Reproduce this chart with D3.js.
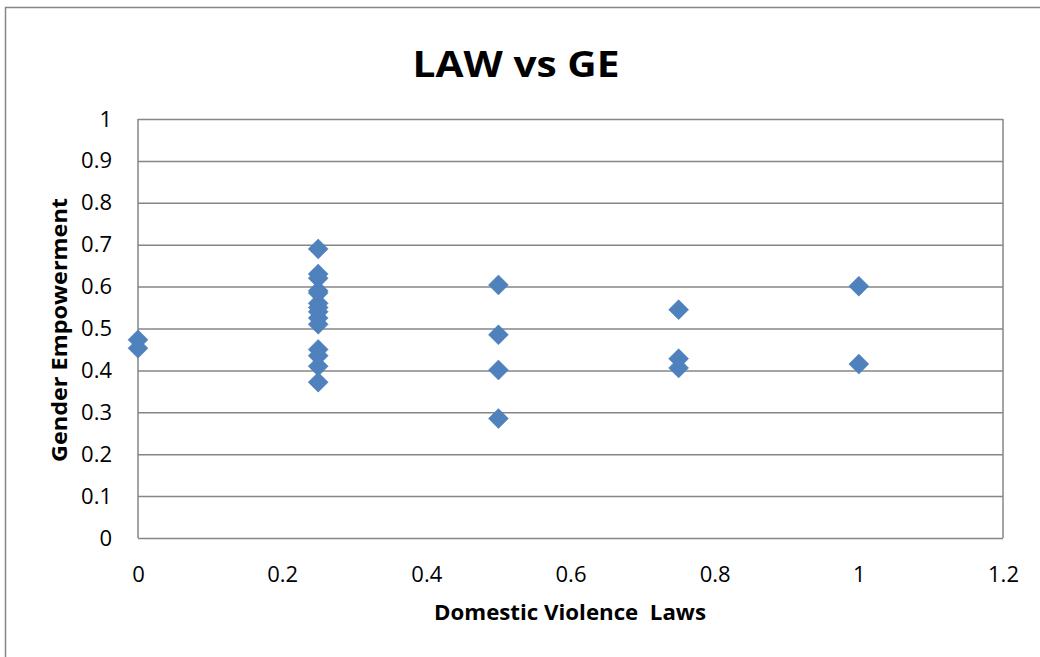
<!DOCTYPE html>
<html>
<head>
<meta charset="utf-8">
<script src="https://cdn.jsdelivr.net/npm/d3@7"></script>
<style>
  body { margin: 0; background: #fff; }
  svg text { font-family: "Open Sans", "Noto Sans", sans-serif; }
</style>
</head>
<body>
<div id="chart"></div>
<script>
// Domestic violence law score (x) vs gender empowerment (y)
const lawScores = [
  0, 0,
  0.25, 0.25, 0.25, 0.25, 0.25, 0.25, 0.25, 0.25, 0.25, 0.25, 0.25, 0.25, 0.25, 0.25,
  0.5, 0.5, 0.5, 0.5,
  0.75, 0.75, 0.75,
  1, 1
];
const empowerment = [
  0.473, 0.453,
  0.69, 0.63, 0.62, 0.59, 0.585, 0.56, 0.55, 0.54, 0.525, 0.51, 0.45, 0.435, 0.41, 0.372,
  0.604, 0.485, 0.401, 0.285,
  0.545, 0.428, 0.406,
  0.601, 0.415
];
const xTicks = [0, 0.2, 0.4, 0.6, 0.8, 1, 1.2];
const yTicks = [0, 0.1, 0.2, 0.3, 0.4, 0.5, 0.6, 0.7, 0.8, 0.9, 1];

const points = lawScores.map((x, i) => ({ x: x, y: empowerment[i] }));

const W = 1040, H = 657;
const margin = { top: 119, right: 37, bottom: 119, left: 138 };
const width = W - margin.left - margin.right;
const height = H - margin.top - margin.bottom;

const svg = d3.select("#chart")
  .append("svg")
  .attr("width", W)
  .attr("height", H);

// outer chart border
svg.append("rect")
  .attr("x", 5.5).attr("y", 7.5)
  .attr("width", W + 10).attr("height", H + 10)
  .attr("fill", "none")
  .attr("stroke", "#868686")
  .attr("stroke-width", 1.5);

const g = svg.append("g")
  .attr("transform", `translate(${margin.left},${margin.top})`);

const xScale = d3.scaleLinear().domain([0, 1.2]).range([0, width]);
const yScale = d3.scaleLinear().domain([0, 1]).range([height, 0]);

// horizontal gridlines
g.append("g")
  .call(d3.axisLeft(yScale).tickValues(yTicks).tickSize(-width).tickFormat(""))
  .call(a => a.select(".domain").remove())
  .selectAll("line")
  .attr("stroke", "#868686")
  .attr("stroke-width", 1.5);

// plot area border (left and right edges)
g.append("line")
  .attr("x1", 0).attr("x2", 0).attr("y1", 0).attr("y2", height)
  .attr("stroke", "#868686").attr("stroke-width", 1.5);
g.append("line")
  .attr("x1", width).attr("x2", width).attr("y1", 0).attr("y2", height)
  .attr("stroke", "#868686").attr("stroke-width", 1.5);

// y tick labels
g.append("g")
  .call(d3.axisLeft(yScale).tickValues(yTicks).tickSize(0).tickPadding(26).tickFormat(d3.format("")))
  .call(a => a.select(".domain").remove())
  .selectAll("text")
  .attr("font-size", 22)
  .attr("fill", "#000");

// x tick labels
g.append("g")
  .attr("transform", `translate(0,${height})`)
  .call(d3.axisBottom(xScale).tickValues(xTicks).tickSize(0).tickPadding(28).tickFormat(d3.format("")))
  .call(a => a.select(".domain").remove())
  .selectAll("text")
  .attr("font-size", 22)
  .attr("fill", "#000");

// points
g.selectAll("path.pt")
  .data(points)
  .enter()
  .append("path")
  .attr("class", "pt")
  .attr("transform", d => `translate(${xScale(d.x)},${yScale(d.y)})`)
  .attr("d", "M0,-10L10,0L0,10L-10,0Z")
  .attr("fill", "#4F81BD")
  .attr("stroke", "#4A7EBB")
  .attr("stroke-width", 0.5);

// title
svg.append("text")
  .attr("x", 516).attr("y", 77)
  .attr("text-anchor", "middle")
  .attr("font-size", 35)
  .attr("font-weight", "bold")
  .attr("textLength", 207)
  .attr("lengthAdjust", "spacingAndGlyphs")
  .text("LAW vs GE");

// axis titles
svg.append("text")
  .attr("x", 570).attr("y", 620)
  .attr("text-anchor", "middle")
  .attr("font-size", 21)
  .attr("font-weight", "bold")
  .attr("textLength", 272)
  .attr("lengthAdjust", "spacingAndGlyphs")
  .style("white-space", "pre")
  .text("Domestic Violence  Laws");

svg.append("text")
  .attr("transform", "translate(67,330) rotate(-90)")
  .attr("text-anchor", "middle")
  .attr("font-size", 21)
  .attr("font-weight", "bold")
  .attr("textLength", 264)
  .attr("lengthAdjust", "spacingAndGlyphs")
  .text("Gender Empowerment");
</script>
</body>
</html>
